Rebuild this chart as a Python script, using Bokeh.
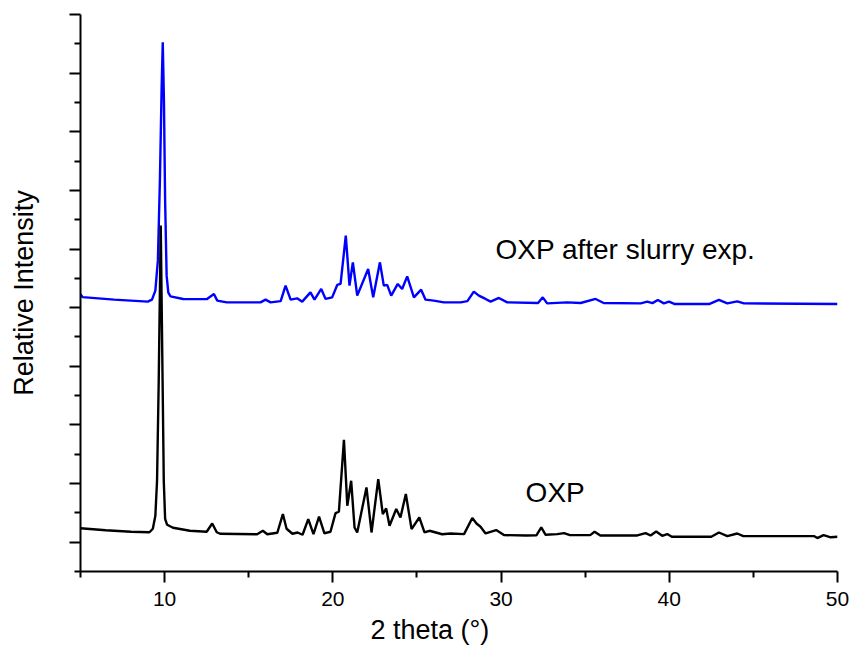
from bokeh.plotting import figure
from bokeh.models import FixedTicker, Range1d, Label, Title
from bokeh.embed import file_html
from bokeh.resources import INLINE

# ---- data ----
tth_oxp = [5.0, 6.5, 8.0, 9.1, 9.3, 9.45, 9.55, 9.65, 9.77, 9.88, 9.95, 10.03, 10.15, 10.5,
           11.5, 12.5, 12.83, 13.1, 13.3, 15.5, 15.84, 16.1, 16.7, 17.03, 17.25, 17.6, 17.9,
           18.2, 18.54, 18.85, 19.18, 19.5, 19.86, 20.16, 20.36, 20.66, 20.86, 21.09, 21.29,
           21.45, 22.0, 22.3, 22.7, 22.97, 23.17, 23.37, 23.77, 24.02, 24.34, 24.68, 25.14,
           25.45, 25.75, 26.5, 27.0, 27.8, 28.29, 28.54, 28.78, 29.08, 29.71, 30.17, 31.5,
           32.1, 32.39, 32.65, 33.34, 33.74, 34.1, 35.3, 35.56, 35.9, 38.1, 38.59, 38.89,
           39.22, 39.58, 39.88, 40.15, 42.5, 42.95, 43.45, 44.04, 44.4, 48.6, 48.8, 49.17,
           49.6, 50.0]
int_oxp = [1.474, 1.406, 1.355, 1.338, 1.457, 1.901, 3.096, 6.509, 11.80, 6.509, 3.096, 1.799,
           1.594, 1.491, 1.389, 1.355, 1.638, 1.338, 1.287, 1.270, 1.389, 1.270, 1.321, 1.959,
           1.457, 1.287, 1.331, 1.253, 1.788, 1.276, 1.874, 1.304, 1.355, 1.993, 2.038, 4.495,
           2.242, 3.096, 1.502, 1.331, 2.867, 1.331, 3.154, 1.959, 2.150, 1.560, 2.130, 1.843,
           2.642, 1.447, 1.843, 1.338, 1.389, 1.270, 1.297, 1.276, 1.823, 1.638, 1.526, 1.297,
           1.413, 1.242, 1.229, 1.235, 1.502, 1.253, 1.276, 1.311, 1.242, 1.242, 1.355, 1.229,
           1.229, 1.311, 1.229, 1.365, 1.218, 1.276, 1.184, 1.184, 1.331, 1.208, 1.297, 1.208,
           1.208, 1.140, 1.242, 1.167, 1.184]

tth_slurry = [5.0, 5.12, 7.0, 9.0, 9.25, 9.45, 9.6, 9.72, 9.82, 9.89, 9.96, 10.03, 10.12,
              10.22, 10.35, 11.1, 12.5, 12.93, 13.13, 13.7, 15.7, 16.0, 16.3, 16.9, 17.19,
              17.49, 17.88, 18.18, 18.67, 18.91, 19.31, 19.57, 19.96, 20.26, 20.46, 20.77,
              20.99, 21.19, 21.45, 22.1, 22.4, 22.8, 23.03, 23.23, 23.47, 23.86, 24.12, 24.42,
              24.82, 25.25, 25.51, 26.0, 26.6, 27.6, 28.0, 28.38, 28.68, 29.08, 29.38, 29.87,
              30.37, 32.2, 32.48, 32.74, 33.93, 34.73, 35.62, 36.1, 38.3, 38.69, 39.0, 39.32,
              39.68, 39.98, 40.3, 42.4, 42.95, 43.45, 44.04, 44.44, 50.0]
int_slurry = [9.46, 9.358, 9.273, 9.205, 9.273, 9.580, 10.604, 13.335, 16.406, 18.055, 16.065,
              12.652, 10.092, 9.512, 9.386, 9.297, 9.290, 9.468, 9.239, 9.181, 9.181, 9.273,
              9.181, 9.222, 9.751, 9.273, 9.317, 9.205, 9.522, 9.273, 9.638, 9.297, 9.352,
              9.775, 9.809, 11.457, 9.751, 10.546, 9.410, 10.321, 9.352, 10.546, 9.751, 9.775,
              9.410, 9.809, 9.638, 10.068, 9.352, 9.614, 9.273, 9.239, 9.181, 9.181, 9.222,
              9.546, 9.410, 9.297, 9.205, 9.331, 9.181, 9.160, 9.352, 9.147, 9.181, 9.160,
              9.297, 9.160, 9.147, 9.205, 9.154, 9.263, 9.147, 9.205, 9.126, 9.126, 9.263,
              9.147, 9.215, 9.147, 9.126]

x_ticks = [10, 20, 30, 40, 50]
x_minor = [5, 15, 25, 35, 45]
y_ticks = [1, 3, 5, 7, 9, 11, 13, 15, 17, 19]
y_minor = [0, 2, 4, 6, 8, 10, 12, 14, 16, 18]

FONT = "Liberation Sans"

p = figure(width=851, height=655, x_range=Range1d(5, 50), y_range=Range1d(0, 19),
           output_backend="svg", toolbar_location=None,
           min_border_left=80, min_border_right=14, min_border_top=14, min_border_bottom=84)
p.outline_line_color = None
p.grid.visible = False
p.background_fill_color = "white"
p.border_fill_color = "white"

p.line(tth_slurry, int_slurry, line_color="#0000ff", line_width=2.4)
p.line(tth_oxp, int_oxp, line_color="black", line_width=2.4)

for ax in (p.xaxis[0], p.yaxis[0]):
    ax.axis_line_width = 2
    ax.axis_line_color = "black"
    ax.major_tick_line_width = 2
    ax.minor_tick_line_width = 2
    ax.major_tick_in = 0
    ax.major_tick_out = 11
    ax.minor_tick_in = 0
    ax.minor_tick_out = 6

p.xaxis.ticker = FixedTicker(ticks=x_ticks, minor_ticks=x_minor)
p.xaxis.major_label_text_font = FONT
p.xaxis.major_label_text_font_size = "21px"
p.xaxis.major_label_text_color = "black"
p.xaxis.major_label_standoff = 9

p.yaxis.ticker = FixedTicker(ticks=y_ticks, minor_ticks=y_minor)
p.yaxis.major_label_overrides = {t: "" for t in y_ticks}
p.yaxis.axis_label = "Relative Intensity"
p.yaxis.axis_label_text_font = FONT
p.yaxis.axis_label_text_font_size = "27px"
p.yaxis.axis_label_text_font_style = "normal"
p.yaxis.axis_label_text_color = "black"
p.yaxis.axis_label_standoff = 31

p.add_layout(Title(text="2 theta (°)", align="left", offset=290, standoff=9,
                   vertical_align="bottom", text_font=FONT, text_font_size="27px",
                   text_font_style="normal", text_color="black"), "below")
p.add_layout(Label(x=29.67, y=10.98, text="OXP after slurry exp.", text_align="left",
                   text_baseline="middle", text_font=FONT, text_font_size="28px",
                   text_color="black"))
p.add_layout(Label(x=31.46, y=2.686, text="OXP", text_align="left",
                   text_baseline="middle", text_font=FONT, text_font_size="28px",
                   text_color="black"))

open("out.html", "w").write(file_html(p, INLINE))
